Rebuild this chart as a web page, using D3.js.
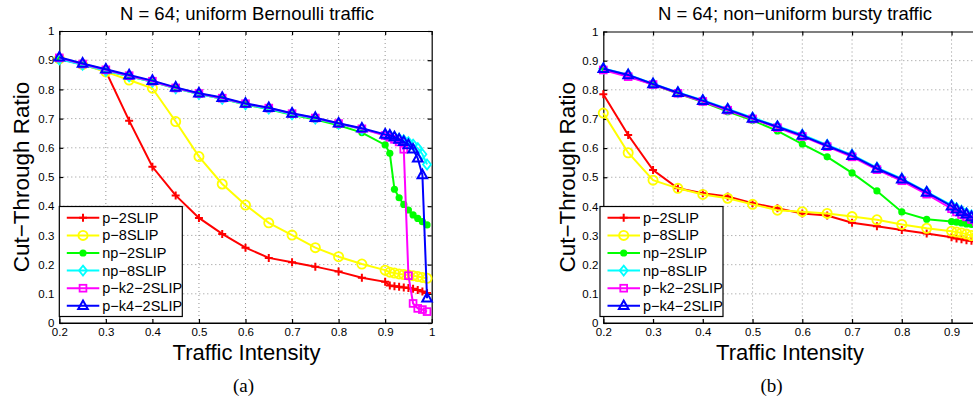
<!DOCTYPE html>
<html>
<head>
<meta charset="utf-8">
<script src="https://cdn.jsdelivr.net/npm/d3@7/dist/d3.min.js"></script>
<style>
  body { margin: 0; background: #fff; }
  svg { display: block; overflow: hidden; }
  text { font-family: "Liberation Sans", Arial, Helvetica, sans-serif; fill: #000; }
</style>
</head>
<body>
<script>
const w = 973;
const h = 405;

// traffic intensity sample points (shared by both panels)
const xVals = [0.2, 0.25, 0.3, 0.35, 0.4, 0.45, 0.5, 0.55, 0.6, 0.65, 0.7, 0.75, 0.8, 0.85, 0.9,
               0.91, 0.92, 0.93, 0.94, 0.95, 0.96, 0.97, 0.98, 0.99];
const xTicks = [0.2, 0.3, 0.4, 0.5, 0.6, 0.7, 0.8, 0.9, 1];
const yTicks = [0, 0.1, 0.2, 0.3, 0.4, 0.5, 0.6, 0.7, 0.8, 0.9, 1];
const seriesNames = ["p−2SLIP", "p−8SLIP", "np−2SLIP", "np−8SLIP", "p−k2−2SLIP", "p−k4−2SLIP"];

// (a) uniform Bernoulli traffic
const uniP2   = [0.905, 0.885, 0.862, 0.693, 0.535, 0.437, 0.36, 0.305, 0.258, 0.223, 0.208, 0.193, 0.176, 0.155, 0.141,
                 0.128, 0.126, 0.124, 0.122, 0.12, 0.117, 0.113, 0.108, 0.103];
const uniP8   = [0.905, 0.885, 0.86, 0.832, 0.804, 0.69, 0.57, 0.476, 0.404, 0.343, 0.301, 0.258, 0.227, 0.202, 0.181,
                 0.174, 0.171, 0.168, 0.166, 0.164, 0.162, 0.159, 0.156, 0.153];
const uniNp2  = [0.905, 0.886, 0.865, 0.845, 0.826, 0.804, 0.784, 0.768, 0.748, 0.732, 0.713, 0.697, 0.677, 0.652, 0.61,
                 0.581, 0.458, 0.429, 0.406, 0.387, 0.37, 0.358, 0.347, 0.336];
const uniNp8  = [0.903, 0.884, 0.864, 0.845, 0.826, 0.804, 0.784, 0.768, 0.749, 0.734, 0.715, 0.7, 0.682, 0.664, 0.645,
                 0.641, 0.636, 0.631, 0.626, 0.619, 0.611, 0.599, 0.578, 0.543];
const uniPk2  = [0.908, 0.887, 0.867, 0.847, 0.828, 0.805, 0.786, 0.77, 0.751, 0.736, 0.717, 0.702, 0.683, 0.665, 0.642,
                 0.636, 0.629, 0.62, 0.595, 0.162, 0.067, 0.05, 0.046, 0.039];
const uniPk4  = [0.91, 0.889, 0.869, 0.849, 0.83, 0.807, 0.787, 0.772, 0.752, 0.737, 0.718, 0.703, 0.684, 0.667, 0.646,
                 0.643, 0.637, 0.629, 0.621, 0.61, 0.595, 0.564, 0.507, 0.085];

// (b) non-uniform bursty traffic
const burP2   = [0.785, 0.645, 0.525, 0.462, 0.445, 0.434, 0.411, 0.394, 0.376, 0.369, 0.344, 0.332, 0.319, 0.307, 0.294,
                 0.29, 0.287, 0.284, 0.282, 0.28, 0.278, 0.276, 0.274, 0.272];
const burP8   = [0.72, 0.584, 0.49, 0.462, 0.441, 0.428, 0.407, 0.387, 0.382, 0.376, 0.365, 0.354, 0.338, 0.325, 0.315,
                 0.312, 0.309, 0.305, 0.3, 0.297, 0.294, 0.291, 0.288, 0.285];
const burNp2  = [0.87, 0.848, 0.818, 0.787, 0.758, 0.725, 0.695, 0.659, 0.614, 0.57, 0.515, 0.453, 0.381, 0.356, 0.348,
                 0.346, 0.343, 0.34, 0.338, 0.336, 0.334, 0.332, 0.33, 0.328];
const burNp8  = [0.873, 0.852, 0.821, 0.791, 0.764, 0.734, 0.704, 0.675, 0.646, 0.611, 0.577, 0.533, 0.495, 0.45, 0.404,
                 0.394, 0.385, 0.377, 0.369, 0.361, 0.354, 0.347, 0.34, 0.333];
const burPk2  = [0.868, 0.845, 0.818, 0.788, 0.76, 0.73, 0.7, 0.67, 0.64, 0.605, 0.57, 0.526, 0.488, 0.442, 0.392,
                 0.381, 0.372, 0.364, 0.355, 0.347, 0.34, 0.333, 0.326, 0.32];
const burPk4  = [0.872, 0.851, 0.82, 0.79, 0.763, 0.733, 0.702, 0.673, 0.643, 0.608, 0.574, 0.53, 0.493, 0.448, 0.401,
                 0.39, 0.381, 0.373, 0.364, 0.357, 0.35, 0.343, 0.336, 0.33];

const colors = ["#ff0000", "#ffff00", "#00ff00", "#00ffff", "#ff00ff", "#0000ff"];
const markers = ["plus", "circle", "dot", "diamond", "square", "triangle"];

const svg = d3.select("body")
              .append("svg")
              .attr("width", w)
              .attr("height", h);

function drawMarker(g, type, color) {
  if (type === "plus") {
    g.append("path").attr("d", "M-4,0H4M0,-4V4").attr("stroke", color).attr("stroke-width", 2);
  } else if (type === "circle") {
    g.append("circle").attr("r", 4.6).attr("fill", "none").attr("stroke", color).attr("stroke-width", 1.8);
  } else if (type === "dot") {
    g.append("circle").attr("r", 3.6).attr("fill", color);
  } else if (type === "diamond") {
    g.append("path").attr("d", "M0,-5L4,0L0,5L-4,0Z").attr("fill", "none").attr("stroke", color).attr("stroke-width", 1.8);
  } else if (type === "square") {
    g.append("rect").attr("x", -3.4).attr("y", -3.4).attr("width", 6.8).attr("height", 6.8)
      .attr("fill", "none").attr("stroke", color).attr("stroke-width", 1.8);
  } else if (type === "triangle") {
    g.append("path").attr("d", "M0,-5.3L4.8,3.3L-4.8,3.3Z").attr("fill", "none").attr("stroke", color).attr("stroke-width", 2);
  }
}

function panel(cfg) {
  const x = d3.scaleLinear().domain([0.2, 1]).range([cfg.left, cfg.right]);
  const y = d3.scaleLinear().domain([0, 1]).range([cfg.bottom, cfg.top]);
  const g = svg.append("g");

  // dotted grid
  g.selectAll(".gx").data(xTicks.slice(1, -1)).enter().append("line")
    .attr("x1", d => x(d)).attr("x2", d => x(d)).attr("y1", cfg.top).attr("y2", cfg.bottom)
    .attr("stroke", "#777").attr("stroke-width", 0.8).attr("stroke-dasharray", "1,3");
  g.selectAll(".gy").data(yTicks.slice(1, -1)).enter().append("line")
    .attr("y1", d => y(d)).attr("y2", d => y(d)).attr("x1", cfg.left).attr("x2", cfg.right)
    .attr("stroke", "#777").attr("stroke-width", 0.8).attr("stroke-dasharray", "1,3");

  const fmt = d => String(+d.toFixed(1));
  // only label ticks that land inside the picture
  const xLabTicks = xTicks.filter(d => x(d) < w - 10);

  const xa = g.append("g").attr("transform", "translate(0," + cfg.bottom + ")")
    .call(d3.axisBottom(x).tickValues(xLabTicks).tickFormat(fmt).tickSizeInner(-4).tickSizeOuter(0).tickPadding(5));
  const ya = g.append("g").attr("transform", "translate(" + cfg.left + ",0)")
    .call(d3.axisLeft(y).tickValues(yTicks).tickFormat(fmt).tickSizeInner(-4).tickSizeOuter(0).tickPadding(5));
  const xt = g.append("g").attr("transform", "translate(0," + cfg.top + ")")
    .call(d3.axisTop(x).tickValues(xTicks).tickFormat("").tickSizeInner(-4).tickSizeOuter(0));
  const yr = g.append("g").attr("transform", "translate(" + cfg.right + ",0)")
    .call(d3.axisRight(y).tickValues(yTicks).tickFormat("").tickSizeInner(-4).tickSizeOuter(0));
  // bottom axis line spans the full box even where labels are dropped
  g.append("line").attr("x1", cfg.left).attr("x2", cfg.right).attr("y1", cfg.bottom).attr("y2", cfg.bottom)
    .attr("stroke", "#000").attr("stroke-width", 1.2);
  [xa, ya, xt, yr].forEach(a => {
    a.selectAll("path, line").attr("stroke", "#000").attr("stroke-width", 1.2);
    a.selectAll("text").attr("font-size", 11.5).attr("font-family", "'Liberation Sans', Arial, sans-serif").attr("fill", "#000");
  });

  // series
  cfg.series.forEach((vals, i) => {
    const pts = vals.map((v, j) => [xVals[j], v]);
    g.append("path")
      .datum(pts)
      .attr("fill", "none")
      .attr("stroke", colors[i])
      .attr("stroke-width", 2)
      .attr("d", d3.line().x(d => x(d[0])).y(d => y(d[1])));
    pts.forEach(p => {
      const m = g.append("g").attr("transform", "translate(" + x(p[0]) + "," + y(p[1]) + ")");
      drawMarker(m, markers[i], colors[i]);
    });
  });

  // legend
  const lg = g.append("g").attr("transform", "translate(" + cfg.legX + "," + cfg.legY + ")");
  lg.append("rect").attr("width", 123).attr("height", 110).attr("fill", "#fff").attr("stroke", "#000").attr("stroke-width", 1.2);
  seriesNames.forEach((name, i) => {
    const yy = 11.3 + i * 17.6;
    lg.append("line").attr("x1", 7.5).attr("x2", 40).attr("y1", yy).attr("y2", yy)
      .attr("stroke", colors[i]).attr("stroke-width", 2);
    const m = lg.append("g").attr("transform", "translate(23.7," + yy + ")");
    drawMarker(m, markers[i], colors[i]);
    lg.append("text").attr("x", 43).attr("y", yy + 5).attr("font-size", 14.5).text(name);
  });

  // titles and labels
  g.append("text").attr("x", cfg.titleX).attr("y", 20).attr("text-anchor", "middle")
    .attr("font-size", 18.5).text(cfg.title);
  g.append("text").attr("x", cfg.xLabelX).attr("y", 360).attr("text-anchor", "middle")
    .attr("font-size", 22).text("Traffic Intensity");
  g.append("text").attr("transform", "translate(" + cfg.yLabelX + "," + ((cfg.top + cfg.bottom) / 2) + ") rotate(-90)")
    .attr("text-anchor", "middle").attr("font-size", 22.5).text("Cut−Through Ratio");
  g.append("text").attr("x", cfg.capX).attr("y", 392).attr("text-anchor", "middle")
    .attr("font-size", 19).style("font-family", "'Liberation Serif', 'Times New Roman', serif").text(cfg.caption);
}

panel({
  left: 59.3, right: 431.7, top: 31, bottom: 323,
  series: [uniP2, uniP8, uniNp2, uniNp8, uniPk2, uniPk4],
  legX: 59.3, legY: 206.5,
  title: "N = 64; uniform Bernoulli traffic", titleX: 247,
  xLabelX: 246.5, yLabelX: 29, capX: 243.5, caption: "(a)"
});

panel({
  left: 603.3, right: 1001.3, top: 31.5, bottom: 323,
  series: [burP2, burP8, burNp2, burNp8, burPk2, burPk4],
  legX: 600, legY: 206.5,
  title: "N = 64; non−uniform bursty traffic", titleX: 795,
  xLabelX: 790, yLabelX: 575, capX: 771.5, caption: "(b)"
});
</script>
</body>
</html>
